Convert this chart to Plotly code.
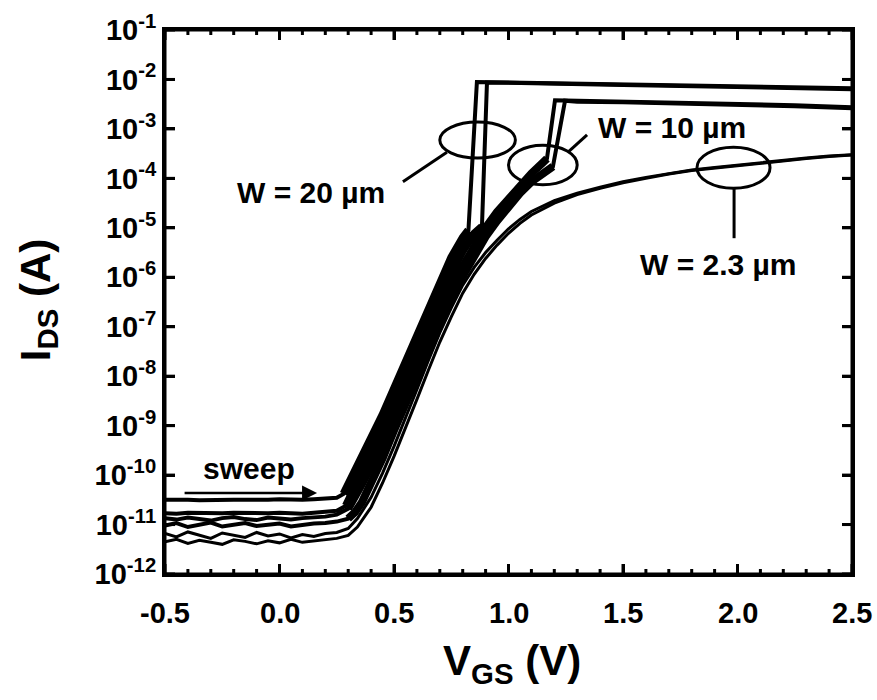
import numpy as np
import plotly.graph_objects as go

# ---- Transfer curves I_DS(V_GS), values stored as log10(I_DS / A) ----
# common off-state gate voltages
v_off = [-0.50, -0.45, -0.40, -0.35, -0.30, -0.25, -0.20, -0.15,
         -0.10, -0.05, 0.00, 0.05, 0.10, 0.15, 0.20, 0.25]

# W = 20 um, two sweeps
w20a_off = [-10.50, -10.49, -10.50, -10.51, -10.50, -10.49, -10.50, -10.50,
            -10.51, -10.50, -10.49, -10.50, -10.50, -10.49, -10.48, -10.46]
w20a_v = [0.28, 0.31, 0.35, 0.40, 0.45, 0.50, 0.55, 0.60, 0.65, 0.70, 0.75,
          0.80, 0.825, 0.862, 1.00, 1.25, 1.50, 1.75, 2.00, 2.25, 2.50]
w20a_log = [-10.38, -10.08, -9.68, -9.25, -8.78, -8.25, -7.72, -7.15, -6.62,
            -6.10, -5.60, -5.20, -5.05, -2.05, -2.06, -2.08, -2.10, -2.12,
            -2.14, -2.16, -2.18]

w20b_off = [-10.77, -10.78, -10.76, -10.77, -10.78, -10.77, -10.76, -10.77,
            -10.78, -10.77, -10.76, -10.77, -10.78, -10.76, -10.75, -10.72]
w20b_v = [0.29, 0.32, 0.35, 0.40, 0.45, 0.50, 0.55, 0.60, 0.65, 0.70, 0.75,
          0.80, 0.85, 0.884, 0.906, 1.00, 1.25, 1.50, 1.75, 2.00, 2.25, 2.50]
w20b_log = [-10.62, -10.35, -10.05, -9.58, -9.10, -8.60, -8.06, -7.50, -6.96,
            -6.43, -5.92, -5.47, -5.12, -4.98, -2.06, -2.07, -2.09, -2.11,
            -2.13, -2.15, -2.18, -2.20]

# W = 10 um, two sweeps
w10a_off = [-10.87, -10.90, -10.86, -10.88, -10.92, -10.87, -10.85, -10.89,
            -10.91, -10.86, -10.88, -10.90, -10.87, -10.86, -10.84, -10.80]
w10a_v = [0.30, 0.33, 0.36, 0.40, 0.45, 0.50, 0.55, 0.60, 0.65, 0.70, 0.75,
          0.80, 0.85, 0.90, 0.95, 1.00, 1.05, 1.10, 1.15, 1.168, 1.203, 1.30,
          1.50, 1.75, 2.00, 2.25, 2.50]
w10a_log = [-10.68, -10.45, -10.18, -9.82, -9.34, -8.84, -8.30, -7.76, -7.22,
            -6.70, -6.22, -5.78, -5.38, -5.00, -4.68, -4.40, -4.14, -3.90,
            -3.68, -3.60, -2.42, -2.43, -2.44, -2.46, -2.49, -2.52, -2.56]

w10b_off = [-11.02, -10.97, -11.05, -11.00, -10.96, -11.04, -11.01, -10.97,
            -11.03, -11.00, -10.98, -11.04, -11.00, -10.98, -10.97, -10.94]
w10b_v = [0.30, 0.33, 0.36, 0.40, 0.45, 0.50, 0.55, 0.60, 0.65, 0.70, 0.75,
          0.80, 0.85, 0.90, 0.95, 1.00, 1.05, 1.10, 1.15, 1.194, 1.247, 1.30,
          1.50, 1.75, 2.00, 2.25, 2.50]
w10b_log = [-10.88, -10.75, -10.55, -10.18, -9.66, -9.10, -8.55, -8.00, -7.46,
            -6.93, -6.43, -5.98, -5.55, -5.18, -4.86, -4.57, -4.30, -4.07,
            -3.88, -3.76, -2.43, -2.45, -2.46, -2.48, -2.51, -2.54, -2.58]

# W = 2.3 um, two sweeps
w23_v = [0.30, 0.34, 0.40, 0.45, 0.50, 0.55, 0.60, 0.65, 0.70, 0.75, 0.80,
         0.85, 0.90, 0.95, 1.00, 1.05, 1.10, 1.20, 1.30, 1.40, 1.50, 1.60,
         1.70, 1.80, 1.90, 2.00, 2.10, 2.20, 2.30, 2.40, 2.50]
w23a_off = [-11.18, -11.25, -11.15, -11.22, -11.28, -11.17, -11.21, -11.26,
            -11.16, -11.23, -11.19, -11.27, -11.20, -11.24, -11.18, -11.16]
w23a_log = [-11.08, -10.88, -10.45, -9.96, -9.42, -8.86, -8.27, -7.68, -7.12,
            -6.62, -6.16, -5.80, -5.50, -5.25, -5.02, -4.83, -4.67, -4.45,
            -4.30, -4.18, -4.07, -3.98, -3.90, -3.83, -3.78, -3.73, -3.68,
            -3.63, -3.59, -3.55, -3.52]
w23b_off = [-11.35, -11.30, -11.38, -11.32, -11.36, -11.40, -11.31, -11.34,
            -11.39, -11.33, -11.37, -11.30, -11.36, -11.33, -11.31, -11.28]
w23b_log = [-11.22, -11.05, -10.65, -10.16, -9.62, -9.06, -8.47, -7.88, -7.31,
            -6.80, -6.32, -5.94, -5.62, -5.35, -5.11, -4.91, -4.74, -4.50,
            -4.33, -4.20, -4.09, -4.00, -3.91, -3.84, -3.79, -3.74, -3.69,
            -3.64, -3.60, -3.56, -3.53]

# axis ticks
x_ticks = [-0.5, 0.0, 0.5, 1.0, 1.5, 2.0, 2.5]
x_labels = ["-0.5", "0.0", "0.5", "1.0", "1.5", "2.0", "2.5"]
x_minor = [-0.4, -0.3, -0.2, -0.1, 0.1, 0.2, 0.3, 0.4, 0.6, 0.7, 0.8, 0.9,
           1.1, 1.2, 1.3, 1.4, 1.6, 1.7, 1.8, 1.9, 2.1, 2.2, 2.3, 2.4]
y_exps = [-1, -2, -3, -4, -5, -6, -7, -8, -9, -10, -11, -12]

FONT = "Liberation Sans, Arial, Helvetica, sans-serif"

fig = go.Figure()


def add_curve(vx, lg, lw, band_w=None):
    """Draw one sweep; optionally thicken its subthreshold rise."""
    vx = np.array(vx)
    lg = np.array(lg)
    fig.add_trace(go.Scatter(
        x=vx, y=10.0 ** lg, mode="lines",
        line=dict(color="black", width=lw), showlegend=False))
    if band_w:
        jump = int(np.argmax(np.diff(lg)))  # step up into the on-state
        sel = (vx >= 0.27) & (np.arange(len(vx)) <= jump)
        fig.add_trace(go.Scatter(
            x=vx[sel], y=10.0 ** lg[sel], mode="lines",
            line=dict(color="black", width=band_w), showlegend=False))


add_curve(v_off + w23_v, w23a_off + w23a_log, 3)
add_curve(v_off + w23_v, w23b_off + w23b_log, 3)
add_curve(v_off + w10b_v, w10b_off + w10b_log, 4, 8)
add_curve(v_off + w10a_v, w10a_off + w10a_log, 4, 8)
add_curve(v_off + w20b_v, w20b_off + w20b_log, 4, 8)
add_curve(v_off + w20a_v, w20a_off + w20a_log, 4, 8)

# ellipses marking each device width (data coordinates)
ellipses = [
    (0.70, 1.03, 10 ** -3.59, 10 ** -2.86),   # W = 20 um
    (1.00, 1.30, 10 ** -4.13, 10 ** -3.33),   # W = 10 um
    (1.823, 2.142, 10 ** -4.20, 10 ** -3.37),  # W = 2.3 um
]
shapes = []
for x0, x1, y0, y1 in ellipses:
    shapes.append(dict(type="circle", xref="x", yref="y", x0=x0, x1=x1,
                       y0=y0, y1=y1, line=dict(color="black", width=3)))
# leader lines
leaders = [
    (0.539, 10 ** -4.07, 0.731, 10 ** -3.47),
    (1.26, 10 ** -3.47, 1.343, 10 ** -3.12),
    (1.985, 10 ** -4.20, 1.985, 10 ** -5.21),
]
for x0, y0, x1, y1 in leaders:
    shapes.append(dict(type="line", xref="x", yref="y", x0=x0, y0=y0,
                       x1=x1, y1=y1, line=dict(color="black", width=3)))

# plot frame
shapes.append(dict(type="rect", xref="paper", yref="paper", x0=0, x1=1,
                   y0=0, y1=1, line=dict(color="black", width=3)))
# inward ticks on all four sides
tick_line = dict(color="black", width=3)
for xv, ln in [(v, 10) for v in x_ticks] + [(v, 5) for v in x_minor]:
    for anchor, sign in ((0, 1), (1, -1)):
        shapes.append(dict(type="line", xref="x", yref="paper",
                           ysizemode="pixel", yanchor=anchor,
                           x0=xv, x1=xv, y0=0, y1=sign * ln,
                           line=tick_line))
for e in y_exps:
    for anchor, sign in ((0, 1), (1, -1)):
        shapes.append(dict(type="line", xref="paper", yref="y",
                           xsizemode="pixel", xanchor=anchor,
                           x0=0, x1=sign * 10, y0=10.0 ** e, y1=10.0 ** e,
                           line=tick_line))

lbl_font = dict(family=FONT, size=30, color="black")
tick_font = dict(family=FONT, size=29, color="black")
title_font = dict(family=FONT, size=42, color="black")
annotations = [
    dict(x=0.138, y=-4.28, xref="x", yref="y", text="<b>W = 20 \u00b5m</b>",
         showarrow=False, font=lbl_font),
    dict(x=1.714, y=-2.98, xref="x", yref="y", text="<b>W = 10 \u00b5m</b>",
         showarrow=False, font=lbl_font),
    dict(x=1.915, y=-5.75, xref="x", yref="y",
         text="<b>W = 2.3 \u00b5m</b>", showarrow=False, font=lbl_font),
    dict(x=-0.133, y=-9.86, xref="x", yref="y", text="<b>sweep</b>",
         showarrow=False, font=lbl_font),
    # sweep direction arrow
    dict(x=0.164, y=-10.36, xref="x", yref="y", ax=-0.421, ay=-10.36,
         axref="x", ayref="y", text="", showarrow=True, arrowhead=2,
         arrowsize=1.2, arrowwidth=2.5, arrowcolor="black"),
    # axis titles
    dict(x=-0.185, y=0.505, xref="paper", yref="paper",
         xanchor="center", yanchor="middle",
         text="<b>I<sub>DS</sub> (A)</b>", textangle=-90, showarrow=False,
         font=title_font),
    dict(x=0.505, y=-0.165, xref="paper", yref="paper",
         xanchor="center", yanchor="middle",
         text="<b>V<sub>GS</sub> (V)</b>", showarrow=False,
         font=title_font),
]
# V_GS tick labels, set a little below the axis
for xv, xt in zip(x_ticks, x_labels):
    annotations.append(dict(x=xv, y=-0.072, xref="x", yref="paper",
                            xanchor="center", yanchor="middle",
                            text="<b>%s</b>" % xt, showarrow=False,
                            font=tick_font))

fig.update_layout(
    template="none", showlegend=False,
    width=877, height=700,
    margin=dict(l=165, r=25, t=30, b=126),
    paper_bgcolor="white", plot_bgcolor="white",
    shapes=shapes, annotations=annotations,
    xaxis=dict(
        range=[-0.5, 2.5], dtick=0.5, tick0=0, showticklabels=False,
        ticks="inside", ticklen=10, tickwidth=3, tickcolor="black",
        minor=dict(dtick=0.1, tick0=0, ticks="inside",
                   ticklen=5, tickwidth=2, tickcolor="black"),
        showline=True, linewidth=3, linecolor="black", mirror="ticks",
        showgrid=False, zeroline=False),
    yaxis=dict(
        type="log", range=[-12, -1], tickmode="array",
        tickvals=[10.0 ** e for e in y_exps],
        ticktext=["<b>10<sup>%d</sup></b>" % e for e in y_exps],
        ticks="inside", ticklen=10, tickwidth=3, tickcolor="black",
        tickfont=tick_font, showline=True, linewidth=3, linecolor="black",
        mirror="ticks", showgrid=False, zeroline=False),
)

fig.write_html("out.html")
